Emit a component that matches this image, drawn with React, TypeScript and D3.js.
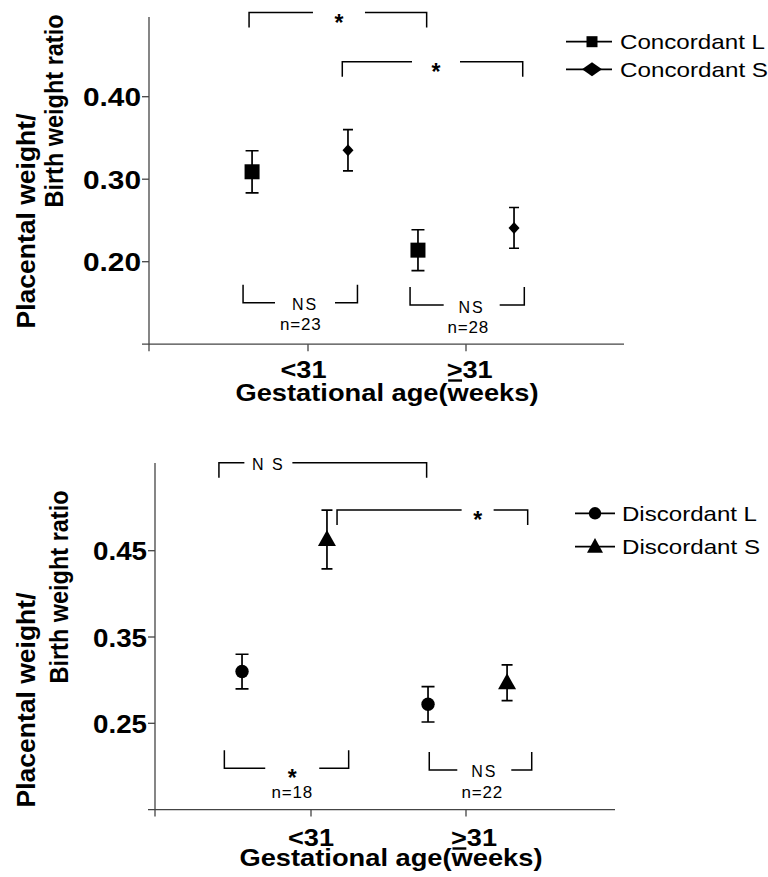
import React from "react";
import * as d3 from "d3";

const FONT = "'Liberation Sans', Arial, Helvetica, sans-serif";

// ---------- shared ----------
const groupLabels = ["<31", "≥31"];
const groupPos = [1, 2];

// ---------- top panel: concordant ----------
const concTicks = [0.2, 0.3, 0.4];
const concSeries = ["Concordant L", "Concordant S"];
const concLx = [0.646, 1.696];
const concLmean = [0.309, 0.214];
const concLse = [0.0255, 0.0247];
const concSx = [1.253, 2.304];
const concSmean = [0.335, 0.241];
const concSse = [0.025, 0.0247];
const concBrackets = [
  { x1: 0.627, x2: 1.751, y: 0.502, dir: "down", label: "*", lx: 1.196, gap: 26 },
  { x1: 1.217, x2: 2.359, y: 0.4424, dir: "down", label: "*", lx: 1.81, gap: 24 },
  { x1: 0.589, x2: 1.313, y: 0.1503, dir: "up", label: "NS", lx: 0.981, gap: 30 },
  { x1: 1.646, x2: 2.369, y: 0.1475, dir: "up", label: "NS", lx: 2.036, gap: 28 },
];
const concN = [
  { x: 0.954, y: 0.1172, text: "n=23" },
  { x: 2.015, y: 0.1136, text: "n=28" },
];

// ---------- bottom panel: discordant ----------
const discTicks = [0.25, 0.35, 0.45];
const discSeries = ["Discordant L", "Discordant S"];
const discLx = [0.555, 1.755];
const discLmean = [0.31, 0.272];
const discLse = [0.02, 0.0205];
const discSx = [1.103, 2.265];
const discSmean = [0.463, 0.297];
const discSse = [0.034, 0.0207];
const discBrackets = [
  { x1: 0.406, x2: 1.746, y: 0.552, dir: "down", label: "N S", lx: 0.725, gap: 24 },
  { x1: 1.168, x2: 2.398, y: 0.4972, dir: "down", label: "*", lx: 2.075, gap: 16 },
  { x1: 0.441, x2: 1.243, y: 0.1979, dir: "up", label: "*", lx: 0.879, gap: 27 },
  { x1: 1.763, x2: 2.424, y: 0.1959, dir: "up", label: "NS", lx: 2.118, gap: 27 },
];
const discN = [
  { x: 0.879, y: 0.1638, text: "n=18" },
  { x: 2.105, y: 0.1631, text: "n=22" },
];

type Shape = "square" | "diamond" | "circle" | "triangle";

function Marker({ shape, x, y, big }: { shape: Shape; x: number; y: number; big?: boolean }) {
  if (shape === "square") {
    const s = big ? 11 : 15;
    return <rect x={x - s / 2} y={y - s / 2} width={s} height={s} fill="#000" />;
  }
  if (shape === "diamond") {
    const w = big ? 20 : 11;
    const h = big ? 14 : 12;
    return (
      <path
        d={`M${x},${y - h / 2}L${x + w / 2},${y}L${x},${y + h / 2}L${x - w / 2},${y}Z`}
        fill="#000"
      />
    );
  }
  if (shape === "circle") {
    const r = big ? 6.2 : 6.7;
    return <ellipse cx={x} cy={y} rx={r} ry={r} fill="#000" />;
  }
  const w = big ? 16 : 18;
  const top = big ? 8.6 : 9.5;
  const bot = big ? 6 : 6.5;
  return (
    <path d={`M${x},${y - top}L${x + w / 2},${y + bot}L${x - w / 2},${y + bot}Z`} fill="#000" />
  );
}

type PanelProps = {
  ticks: number[];
  tickLabelWidth: number;
  yDomain: [number, number];
  yRange: [number, number];
  xRange: [number, number];
  axisX: number;
  axisTop: number;
  xAxisEnd: number;
  series: string[];
  seriesWidths: number[];
  shapes: [Shape, Shape];
  lx: number[];
  lmean: number[];
  lse: number[];
  sx: number[];
  smean: number[];
  sse: number[];
  brackets: any[];
  nLabels: { x: number; y: number; text: string }[];
  tickLabelBaseline: number;
  tickLabelDx: number[];
  xTitleBaseline: number;
  xTitleCenter: number;
  yTitle1: { x: number; y: number };
  yTitle2: { x: number; y: number };
  legend: { lineX1: number; lineX2: number; mx: number; y1: number; y2: number; tx: number };
};

function Panel(p: PanelProps) {
  const y = d3.scaleLinear().domain(p.yDomain).range(p.yRange);
  const x = d3.scaleLinear().domain([1, 2]).range(p.xRange);
  const x0 = y(p.yDomain[0]);
  const tickFmt = d3.format(".2f");

  const errCap = (shape: Shape) => (shape === "diamond" ? 5 : shape === "triangle" ? 5.5 : 6.5);

  const renderSeries = (xs: number[], means: number[], ses: number[], shape: Shape, key: string) =>
    xs.map((xv, i) => {
      const cx = x(xv);
      const yt = y(means[i] + ses[i]);
      const yb = y(means[i] - ses[i]);
      const c = errCap(shape);
      return (
        <g key={key + i}>
          <path
            d={`M${cx - c},${yt}H${cx + c}M${cx},${yt}V${yb}M${cx - c},${yb}H${cx + c}`}
            stroke="#000"
            strokeWidth={1.7}
            fill="none"
          />
          <Marker shape={shape} x={cx} y={y(means[i])} />
        </g>
      );
    });

  const XW = 46; // width of the group label text

  return (
    <g fontFamily={FONT}>
      {/* axes */}
      <line x1={p.axisX} x2={p.axisX} y1={p.axisTop} y2={x0 + 7} stroke="#444" strokeWidth={1.3} />
      <line x1={p.axisX - 7} x2={p.xAxisEnd} y1={x0} y2={x0} stroke="#444" strokeWidth={1.3} />
      {p.ticks.map((t) => (
        <g key={t}>
          <line x1={p.axisX - 7} x2={p.axisX} y1={y(t)} y2={y(t)} stroke="#444" strokeWidth={1.3} />
          <text
            x={p.axisX - 8}
            y={y(t) + 9.5}
            textAnchor="end"
            fontSize={26}
            fontWeight="bold"
            textLength={p.tickLabelWidth}
            lengthAdjust="spacingAndGlyphs"
            fill="#000"
          >
            {tickFmt(t)}
          </text>
        </g>
      ))}
      {groupPos.map((g, i) => {
        const isGe = groupLabels[i] === "≥31";
        const cx = x(g) + p.tickLabelDx[i];
        const left = cx - XW / 2;
        const gtW = (XW * 0.584) / 1.696;
        return (
          <g key={g}>
            <line x1={x(g)} x2={x(g)} y1={x0} y2={x0 + 7} stroke="#444" strokeWidth={1.3} />
            <text
              x={cx}
              y={p.tickLabelBaseline}
              textAnchor="middle"
              fontSize={24}
              fontWeight="bold"
              textLength={XW}
              lengthAdjust="spacingAndGlyphs"
              fill="#000"
            >
              {isGe ? ">31" : groupLabels[i]}
            </text>
            {isGe && (
              <line
                x1={left + 1.5}
                x2={left + gtW - 0.5}
                y1={p.tickLabelBaseline + 2.5}
                y2={p.tickLabelBaseline + 2.5}
                stroke="#000"
                strokeWidth={2.4}
              />
            )}
          </g>
        );
      })}
      <text
        x={p.xTitleCenter}
        y={p.xTitleBaseline}
        textAnchor="middle"
        fontSize={24}
        fontWeight="bold"
        textLength={303}
        lengthAdjust="spacingAndGlyphs"
        fill="#000"
      >
        Gestational age(weeks)
      </text>
      <text
        transform={`translate(${p.yTitle1.x},${p.yTitle1.y}) rotate(-90)`}
        textAnchor="middle"
        fontSize={25}
        fontWeight="bold"
        textLength={215}
        lengthAdjust="spacingAndGlyphs"
        fill="#000"
      >
        Placental weight/
      </text>
      <text
        transform={`translate(${p.yTitle2.x},${p.yTitle2.y}) rotate(-90)`}
        textAnchor="middle"
        fontSize={25}
        fontWeight="bold"
        textLength={193}
        lengthAdjust="spacingAndGlyphs"
        fill="#000"
      >
        Birth weight ratio
      </text>

      {/* brackets */}
      {p.brackets.map((b, i) => {
        const ly = y(b.y);
        const leg = b.dir === "down" ? 15 : -18;
        const lxp = x(b.lx);
        const d = `M${x(b.x1)},${ly + leg}V${ly}H${lxp - b.gap}M${lxp + b.gap},${ly}H${x(b.x2)}V${ly + leg}`;
        const isStar = b.label === "*";
        return (
          <g key={"b" + i}>
            <path d={d} stroke="#000" strokeWidth={1.5} fill="none" />
            <text
              x={lxp}
              y={isStar ? ly + 18 : ly + 7.5}
              textAnchor="middle"
              fontSize={isStar ? 23 : 16}
              fontWeight={isStar ? "bold" : "normal"}
              letterSpacing={isStar ? 0 : 2}
              fill="#000"
            >
              {b.label}
            </text>
          </g>
        );
      })}
      {p.nLabels.map((n, i) => (
        <text
          key={"n" + i}
          x={x(n.x)}
          y={y(n.y)}
          textAnchor="middle"
          fontSize={17}
          letterSpacing={0.8}
          fill="#000"
        >
          {n.text}
        </text>
      ))}

      {/* data */}
      {renderSeries(p.lx, p.lmean, p.lse, p.shapes[0], "L")}
      {renderSeries(p.sx, p.smean, p.sse, p.shapes[1], "S")}

      {/* legend */}
      {[p.legend.y1, p.legend.y2].map((ly, i) => (
        <g key={"lg" + i}>
          <line
            x1={p.legend.lineX1}
            x2={p.legend.lineX2}
            y1={ly}
            y2={ly}
            stroke="#000"
            strokeWidth={1.7}
          />
          <Marker shape={p.shapes[i]} x={p.legend.mx} y={ly} big />
          <text
            x={p.legend.tx}
            y={ly + 7.2}
            fontSize={21}
            textLength={p.seriesWidths[i]}
            lengthAdjust="spacingAndGlyphs"
            fill="#000"
          >
            {p.series[i]}
          </text>
        </g>
      ))}
    </g>
  );
}

export default function App() {
  return (
    <svg
      width={768}
      height={877}
      style={{ position: "absolute", left: 0, top: 0, background: "#fff" }}
    >
      <rect width={768} height={877} fill="#fff" />
      <Panel
        ticks={concTicks}
        tickLabelWidth={58}
        yDomain={[0.1, 0.5]}
        yRange={[344.2, 14.2]}
        xRange={[308, 466]}
        axisX={149}
        axisTop={17}
        xAxisEnd={624}
        series={concSeries}
        seriesWidths={[145, 148]}
        shapes={["square", "diamond"]}
        lx={concLx}
        lmean={concLmean}
        lse={concLse}
        sx={concSx}
        smean={concSmean}
        sse={concSse}
        brackets={concBrackets}
        nLabels={concN}
        tickLabelBaseline={378}
        tickLabelDx={[-4.5, 3.7]}
        xTitleBaseline={401}
        xTitleCenter={387}
        yTitle1={{ x: 35, y: 221 }}
        yTitle2={{ x: 63, y: 111 }}
        legend={{ lineX1: 566, lineX2: 612, mx: 592, y1: 41.7, y2: 69.3, tx: 620 }}
      />
      <Panel
        ticks={discTicks}
        tickLabelWidth={54}
        yDomain={[0.15, 0.55]}
        yRange={[809.6, 464.4]}
        xRange={[311, 466]}
        axisX={155}
        axisTop={463}
        xAxisEnd={615}
        series={discSeries}
        seriesWidths={[135, 138]}
        shapes={["circle", "triangle"]}
        lx={discLx}
        lmean={discLmean}
        lse={discLse}
        sx={discSx}
        smean={discSmean}
        sse={discSse}
        brackets={discBrackets}
        nLabels={discN}
        tickLabelBaseline={846}
        tickLabelDx={[0, 8]}
        xTitleBaseline={866}
        xTitleCenter={391}
        yTitle1={{ x: 35, y: 700 }}
        yTitle2={{ x: 68, y: 587 }}
        legend={{ lineX1: 575, lineX2: 615, mx: 595, y1: 513.3, y2: 546.7, tx: 622 }}
      />
    </svg>
  );
}
